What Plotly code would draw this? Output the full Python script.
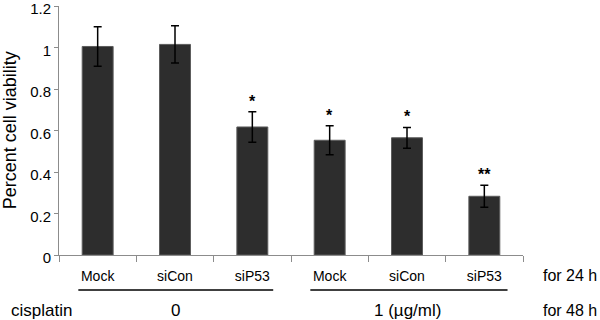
import plotly.graph_objects as go

categories = ["Mock", "siCon", "siP53", "Mock", "siCon", "siP53"]
viability = [1.005, 1.015, 0.617, 0.553, 0.565, 0.283]
errors = [0.095, 0.09, 0.073, 0.07, 0.05, 0.053]
significance = ["", "", "*", "*", "*", "**"]
y_ticks = [0, 0.2, 0.4, 0.6, 0.8, 1, 1.2]
y_ticktext = ["0", "0.2", "0.4", "0.6", "0.8", "1", "1.2"]
group_labels = ["0", "1 (\u00b5g/ml)"]

xpos = list(range(len(categories)))
FONT = "Liberation Sans, Arial, sans-serif"

fig = go.Figure()
fig.add_trace(go.Bar(
    x=xpos, y=viability, width=0.4,
    marker=dict(color="#2d2d2d", line=dict(color="#5c5c5c", width=1)),
    error_y=dict(type="data", array=errors, color="black", thickness=1.5, width=4),
    hoverinfo="skip",
))

for i, s in enumerate(significance):
    if s:
        fig.add_annotation(x=xpos[i], y=viability[i] + errors[i], text="<b>" + s + "</b>",
                           showarrow=False, yanchor="bottom", yshift=0,
                           font=dict(family=FONT, size=16, color="black"))

# group lines under x labels
fig.add_shape(type="line", xref="x", yref="paper", x0=-0.25, x1=2.27, y0=-0.141, y1=-0.141,
              line=dict(color="black", width=1.5))
fig.add_shape(type="line", xref="x", yref="paper", x0=2.75, x1=5.3, y0=-0.141, y1=-0.141,
              line=dict(color="black", width=1.5))

bottom_font = dict(family=FONT, size=17, color="black")
side_font = dict(family=FONT, size=16, color="black")
fig.add_annotation(xref="paper", yref="paper", x=-0.037, y=-0.222, text="cisplatin",
                   showarrow=False, font=bottom_font, xanchor="center", yanchor="middle")
fig.add_annotation(xref="x", yref="paper", x=1, y=-0.222, text=group_labels[0],
                   showarrow=False, font=bottom_font, yanchor="middle")
fig.add_annotation(xref="x", yref="paper", x=4, y=-0.222, text=group_labels[1],
                   showarrow=False, font=bottom_font, yanchor="middle")
fig.add_annotation(xref="paper", yref="paper", x=1.164, y=-0.081, text="for 24 h",
                   showarrow=False, font=side_font, xanchor="right", yanchor="middle")
fig.add_annotation(xref="paper", yref="paper", x=1.164, y=-0.222, text="for 48 h",
                   showarrow=False, font=side_font, xanchor="right", yanchor="middle")
fig.add_annotation(xref="paper", yref="paper", x=-0.106, y=0.5, text="Percent cell viability",
                   textangle=-90, showarrow=False,
                   font=dict(family=FONT, size=18, color="black"),
                   xanchor="center", yanchor="middle")

fig.update_layout(
    width=600, height=320,
    margin=dict(l=59, r=77, t=6, b=65, autoexpand=False),
    paper_bgcolor="white", plot_bgcolor="white",
    showlegend=False,
    font=dict(family=FONT, color="black"),
    xaxis=dict(
        range=[-0.5, 5.5], tickmode="array", tickvals=xpos, ticktext=categories,
        ticks="", showgrid=False, zeroline=False, automargin=False,
        showline=True, linecolor="#8c8c8c", linewidth=1,
        tickfont=dict(family=FONT, size=14, color="black"),
        ticklabelstandoff=8,
        minor=dict(tickmode="linear", tick0=-0.5, dtick=1, ticks="outside",
                   ticklen=6, tickcolor="#8c8c8c", tickwidth=1, showgrid=False),
    ),
    yaxis=dict(
        range=[0, 1.2001], tickmode="array", tickvals=y_ticks, ticktext=y_ticktext,
        ticks="outside", ticklen=4, tickcolor="#8c8c8c", automargin=False,
        ticklabeloverflow="allow", ticklabelshift=3,
        showgrid=False, zeroline=False,
        showline=True, linecolor="#8c8c8c", linewidth=1,
        tickfont=dict(family=FONT, size=15, color="black"),
    ),
)

fig.write_html("out.html", config={"displayModeBar": False, "staticPlot": True},
               post_script="document.body.style.margin='0';")
